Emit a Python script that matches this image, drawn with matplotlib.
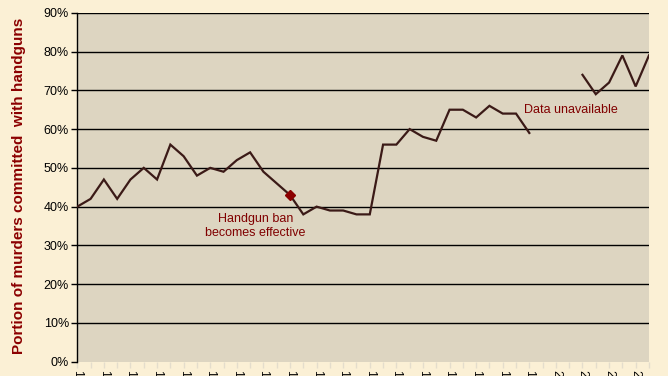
import matplotlib

matplotlib.use("Agg")
import matplotlib.pyplot as plt
import numpy as np

plt.rcParams["font.family"] = ["Liberation Sans", "DejaVu Sans"]

years = list(range(1964, 2008))
handgun_share = [
    40, 42, 47, 42, 47, 50, 47, 56, 53, 48,
    50, 49, 52, 54, 49, 46, 43, 38, 40, 39,
    39, 38, 38, 56, 56, 60, 58, 57, 65, 65,
    63, 66, 64, 64, 59, None, None, None, 74, 69,
    72, 79, 71, 79,
]
ban_year = 1980
y_ticks = list(range(0, 100, 10))

idx = np.arange(len(years))
vals = np.array([np.nan if v is None else v for v in handgun_share], dtype=float)
ban_idx = years.index(ban_year)

fig = plt.figure(figsize=(6.68, 3.76), dpi=100)
fig.patch.set_facecolor("#fbf0d5")
ax = fig.add_axes([0.1157, 0.038, 0.8558, 0.928])
ax.set_facecolor("#ddd5c1")

for y in y_ticks[1:]:
    ax.axhline(y, color="black", lw=1.0, zorder=1)

ax.plot(idx, vals, color="#3b1a17", lw=1.6, zorder=3, solid_joinstyle="miter")
ax.plot(ban_idx, vals[ban_idx], marker="D", color="#8b0000", ms=5, zorder=4)

ax.text(ban_idx - 2.6, 35.0, "Handgun ban\nbecomes effective", color="#800000",
        fontsize=9, ha="center", va="center", linespacing=1.15)
ax.text(33.6, 65.0, "Data unavailable", color="#800000", fontsize=9,
        ha="left", va="center")

ax.set_xlim(0, len(years) - 1)
ax.set_ylim(0, 90)
ax.set_yticks(y_ticks)
ax.set_yticklabels([f"{v}%" for v in y_ticks], fontsize=9)
ax.tick_params(axis="y", direction="out", length=4, width=1, color="black", pad=2)

# year labels are cut off at the bottom edge, as in the original
ax.set_xticks(idx[::2])
ax.set_xticklabels([str(y) for y in years[::2]], rotation=270, fontsize=9, va="top", ha="center")
ax.set_xticks(idx[1::2], minor=True)
ax.tick_params(axis="x", which="both", direction="out", length=4, width=1, color="#e4ddcc", pad=2)

for side in ["top", "right", "bottom"]:
    ax.spines[side].set_visible(False)
ax.spines["left"].set_color("black")
ax.spines["left"].set_linewidth(1.0)

fig.text(0.028, 0.505, "Portion of murders committed  with handguns", rotation=90,
         color="#8b0000", fontsize=11, fontweight="bold", ha="center", va="center")

fig.savefig("out.png", dpi=100, facecolor=fig.get_facecolor())
plt.close(fig)
